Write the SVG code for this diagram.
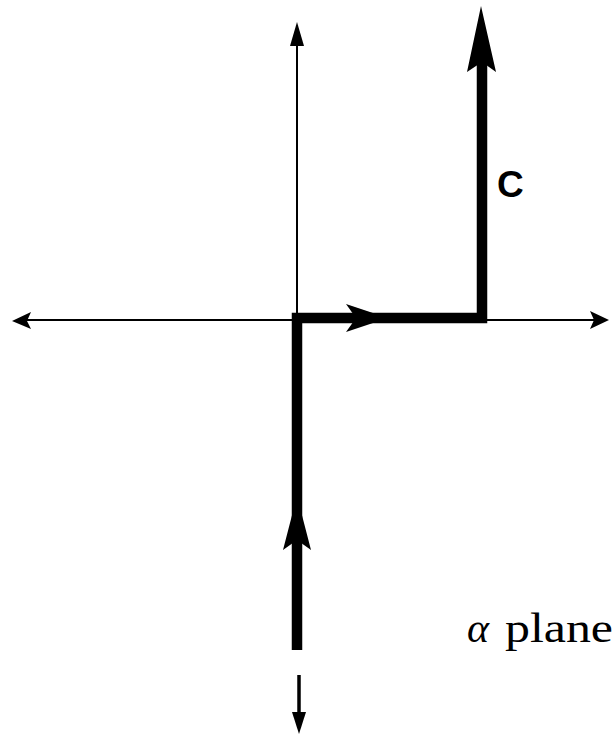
<svg xmlns="http://www.w3.org/2000/svg" width="616" height="736" viewBox="0 0 616 736">
<style>
.thin{stroke:#000;stroke-width:2;fill:none}
.thick{stroke:#000;stroke-width:10.5;fill:none;stroke-linecap:butt;stroke-linejoin:miter}
.head{fill:#000;stroke:none}
.lbl{font-family:"Liberation Sans",Arial,sans-serif;font-weight:bold;font-size:37px;fill:#000}
.serif{font-family:"Liberation Serif","Times New Roman",serif;font-size:42px;fill:#000}
</style>
<rect width="616" height="736" fill="#fff"/>
<g id="connectors">
  <line class="thin" x1="297" y1="40" x2="297" y2="320"/>
  <line class="thin" x1="26" y1="320" x2="596" y2="320"/>
  <polygon class="head" points="297,22 290,46 304,46"/>
  <polygon class="head" points="12,321 31,312 27,321 31,329"/>
  <polygon class="head" points="609,320 590,311 594,320 590,329"/>
  <path class="thick" d="M297,650 L297,318 L482,318 L482,60"/>
  <polygon class="head" points="481,6 467,72 482,62 496,72"/>
  <polygon class="head" points="388,318 346,304 356,318 346,332"/>
  <polygon class="head" points="297,496 283,550 297,540 311,550"/>
  <line x1="299" y1="675" x2="299" y2="716" stroke="#000" stroke-width="3.5"/>
  <polygon class="head" points="299,734 292,712 306,712"/>
</g>
<g id="label-c"><text class="lbl" x="497" y="197">C</text></g>
<g id="label-plane">
  <text class="serif" x="467" y="642" font-style="italic">α</text>
  <text class="serif" x="505" y="642" textLength="108" lengthAdjust="spacingAndGlyphs">plane</text>
</g>
</svg>
